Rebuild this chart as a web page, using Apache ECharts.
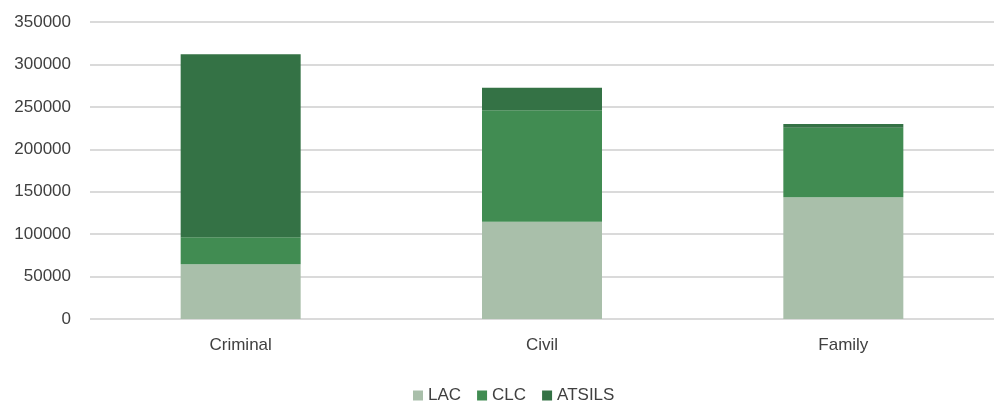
<!DOCTYPE html>
<html>
<head>
<meta charset="utf-8">
<script src="https://cdn.jsdelivr.net/npm/echarts@6/dist/echarts.min.js"></script>
<style>
    html, body { margin: 0; padding: 0; background: #fff; }
    #chart { width: 994px; height: 403px; }
</style>
</head>
<body>
<div id="chart"></div>
<script>
const categories = ['Criminal', 'Civil', 'Family']
const lac = [64400, 114700, 143400]
const clc = [31900, 131200, 82100]
const atsils = [215600, 26700, 4300]

const textColor = '#404040'
const font = '"Liberation Sans", Arial, sans-serif'

function bar(name, data, color){
    return {
        name: name,
        type: 'bar',
        stack: 'total',
        barWidth: 120,
        itemStyle: { color: color },
        data: data
    }
}

const chart = echarts.init(document.getElementById('chart'))
chart.setOption({
    animation: false,
    textStyle: { fontFamily: font },
    grid: { left: 90, right: 0, top: 22, bottom: 84 },
    legend: {
        top: 382,
        left: 408,
        itemWidth: 10,
        itemHeight: 10,
        itemGap: 16,
        icon: 'rect',
        textStyle: { color: textColor, fontSize: 17, fontFamily: font },
        data: ['LAC', 'CLC', 'ATSILS']
    },
    xAxis: {
        type: 'category',
        data: categories,
        axisLine: { show: false },
        axisTick: { show: false },
        axisLabel: { color: textColor, fontSize: 17, margin: 18, fontFamily: font }
    },
    yAxis: {
        type: 'value',
        min: 0,
        max: 350000,
        interval: 50000,
        axisLine: { show: false },
        axisTick: { show: false },
        axisLabel: {
            color: textColor, fontSize: 17, margin: 19, fontFamily: font,
            formatter: (v) => String(v)
        },
        splitLine: { lineStyle: { color: '#dadada', width: 2 } }
    },
    series: [
        bar('LAC', lac, '#a9bfaa'),
        bar('CLC', clc, '#418c52'),
        bar('ATSILS', atsils, '#347245')
    ]
})
</script>
</body>
</html>
